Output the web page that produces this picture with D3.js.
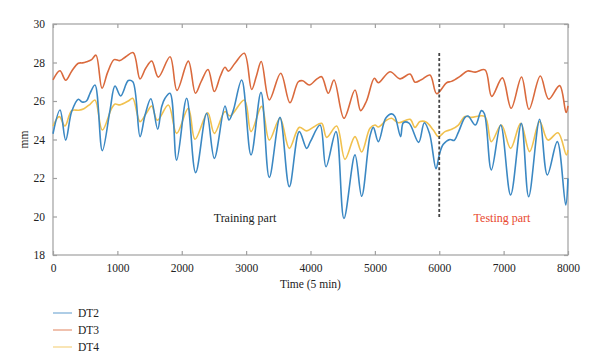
<!DOCTYPE html>
<html><head><meta charset="utf-8">
<script src="https://cdn.jsdelivr.net/npm/d3@7"></script>
<style>body{margin:0;background:#fff}svg{display:block}text{font-family:"Liberation Serif","DejaVu Serif",serif;fill:#222}</style>
</head><body><svg id="c" width="600" height="358"></svg>
<script>
// ---- data ----
const xTicks = [0,1000,2000,3000,4000,5000,6000,7000,8000];
const yTicks = [18,20,22,24,26,28,30];
const seriesNames = ["DT2","DT3","DT4"];
const seriesColors = ["#3b88c3","#da6a3d","#f1c14e"];

const dt2Time = [0,109,197,290,394,450,520,575,652,766,886,963,1051,1170,1240,1352,1430,1520,1626,1688,1740,1818,1921,2076,2216,2387,2506,2672,2734,2800,2931,3076,3231,3360,3526,3671,3826,3941,4000,4148,4241,4396,4520,4691,4795,4924,4976,5054,5168,5261,5310,5400,5442,5530,5680,5768,5850,5950,6000,6063,6167,6230,6300,6400,6447,6561,6654,6700,6809,6954,7109,7275,7389,7560,7679,7834,7964,8000];
const dt2Values = [24.3,25.53,23.97,25.45,26.09,25.95,26.0,26.4,26.83,23.42,25.53,26.78,26.26,27.06,27.0,24.15,25.27,26.12,24.53,25.7,26.14,26.4,22.93,26.14,22.28,25.36,23.02,25.74,25.01,25.5,27.09,23.2,26.45,22.03,25.15,21.55,24.41,23.54,23.9,24.75,22.59,24.41,19.9,23.2,21.05,24.18,24.63,23.89,25.1,25.33,25.2,24.15,24.87,24.85,23.85,24.87,24.3,22.48,23.2,23.75,24.0,23.95,24.4,25.15,25.22,24.75,25.5,25.35,22.42,24.75,21.12,24.84,21.03,25.05,22.16,23.89,20.6,21.98];

const dt3Time = [0,108,197,290,393,460,523,600,668,761,850,950,1040,1130,1247,1351,1440,1533,1636,1818,1926,2102,2213,2300,2408,2506,2600,2672,2724,2827,2972,3086,3160,3235,3360,3537,3681,3811,3880,3982,4100,4173,4277,4365,4520,4691,4779,4870,4992,5054,5235,5390,5546,5623,5720,5856,5960,6115,6190,6322,6440,6560,6711,6815,6980,7117,7278,7394,7570,7700,7870,7970,8000];
const dt3Values = [27.1,27.57,27.08,27.55,27.96,27.98,28.04,28.15,28.38,26.66,27.5,28.15,28.1,28.3,28.51,27.15,27.7,28.08,27.24,28.3,26.55,28.07,26.4,27.0,27.64,26.49,27.3,27.75,27.55,27.96,28.48,26.6,27.3,28.05,26.05,27.44,25.91,27.0,27.05,26.83,27.15,27.26,26.4,27.09,25.1,26.57,25.5,26.0,27.18,26.95,27.52,27.15,27.4,26.98,27.1,27.35,26.38,26.95,27.02,27.28,27.56,27.5,27.62,26.24,27.2,25.62,27.25,25.57,27.3,26.1,26.8,25.4,25.75];

const dt4Time = [0,98,186,290,400,480,575,652,766,911,963,1040,1170,1238,1352,1455,1533,1621,1792,1921,2102,2206,2403,2506,2672,2750,2972,3076,3241,3360,3526,3671,3826,3941,4050,4173,4251,4406,4536,4691,4795,4924,5002,5054,5183,5261,5364,5546,5623,5701,5800,5908,5986,6089,6193,6297,6400,6500,6706,6809,6964,7109,7265,7404,7560,7689,7845,7974,8000];
const dt4Values = [24.7,25.19,24.7,25.5,25.52,25.6,25.83,26.05,24.49,25.62,25.84,25.8,26.0,26.14,24.93,25.39,25.74,25.0,25.79,24.32,25.62,24.01,25.39,24.32,25.45,25.22,26.05,24.41,25.72,23.97,25.1,23.54,24.63,24.45,24.65,24.84,24.11,24.7,22.97,24.15,23.35,24.58,24.75,24.65,25.01,25.1,24.87,25.05,24.63,24.93,24.9,24.49,24.15,24.41,24.53,24.75,25.2,25.15,25.2,23.89,24.75,23.54,24.84,23.37,24.93,23.97,24.35,23.2,23.45];

const splitTime = 6000;
const splitRange = [19.87, 28.5];
const labels = {train:"Training part", test:"Testing part", xTitle:"Time (5 min)", yTitle:"mm"};

// ---- drawing ----
const svg = d3.select("#c");
const L=53, R=568, T=24, B=255;
const x = d3.scaleLinear().domain([0,8000]).range([L,R]);
const y = d3.scaleLinear().domain([18,30]).range([B,T]);
const axisCol = "#a0a0a0";

const g = svg.append("g");
g.append("rect").attr("x",L).attr("y",T).attr("width",R-L).attr("height",B-T)
 .attr("fill","none").attr("stroke",axisCol).attr("stroke-width",1.2);

function styleAxis(sel, showLabels){
  sel.select(".domain").remove();
  sel.selectAll(".tick line").attr("stroke",axisCol).attr("stroke-width",1.2);
  sel.selectAll(".tick text").style("font-size","11.5px").attr("fill","#222");
  if(!showLabels) sel.selectAll(".tick text").remove();
}
g.append("g").attr("transform",`translate(0,${B})`)
 .call(d3.axisBottom(x).tickValues(xTicks).tickSizeInner(-4).tickPadding(9).tickFormat(d3.format("d")))
 .call(s=>styleAxis(s,true));
g.append("g").attr("transform",`translate(0,${T})`)
 .call(d3.axisTop(x).tickValues(xTicks).tickSizeInner(-4))
 .call(s=>styleAxis(s,false));
g.append("g").attr("transform",`translate(${L},0)`)
 .call(d3.axisLeft(y).tickValues(yTicks).tickSizeInner(-4).tickPadding(8))
 .call(s=>styleAxis(s,true));
g.append("g").attr("transform",`translate(${R},0)`)
 .call(d3.axisRight(y).tickValues(yTicks).tickSizeInner(-4))
 .call(s=>styleAxis(s,false));

const series = [
  {name:seriesNames[0], t:dt2Time, v:dt2Values, c:seriesColors[0]},
  {name:seriesNames[1], t:dt3Time, v:dt3Values, c:seriesColors[1]},
  {name:seriesNames[2], t:dt4Time, v:dt4Values, c:seriesColors[2]}
];
const line = d3.line().x(d=>x(d[0])).y(d=>y(d[1])).curve(d3.curveCatmullRom.alpha(0.5));
[series[1], series[2], series[0]].forEach(s=>{
  g.append("path").datum(s.t.map((t,i)=>[t,s.v[i]]))
   .attr("d",line).attr("fill","none").attr("stroke",s.c).attr("stroke-width",1.6)
   .attr("stroke-linejoin","round");
});

g.append("line").attr("x1",x(splitTime)).attr("x2",x(splitTime))
 .attr("y1",y(splitRange[1])).attr("y2",y(splitRange[0]))
 .attr("stroke","#444").attr("stroke-width",1.8).attr("stroke-dasharray","3,2.2");

g.append("text").attr("x",245).attr("y",222).attr("text-anchor","middle")
 .style("font-size","12px").text(labels.train);
g.append("text").attr("x",502).attr("y",222).attr("text-anchor","middle")
 .style("font-size","12px").style("fill","#e8482e").text(labels.test);

g.append("text").attr("x",(L+R)/2).attr("y",288).attr("text-anchor","middle")
 .style("font-size","11.5px").text(labels.xTitle);
g.append("text").attr("transform",`translate(28,${(T+B)/2}) rotate(-90)`).attr("text-anchor","middle")
 .style("font-size","11.5px").text(labels.yTitle);

const ly = [313,330,347];
series.forEach((s,i)=>{
  g.append("line").attr("x1",53).attr("x2",72).attr("y1",ly[i]).attr("y2",ly[i])
   .attr("stroke",s.c).attr("stroke-width",1.1).attr("opacity",0.75);
  g.append("text").attr("x",78).attr("y",ly[i]+4).style("font-size","11.5px").text(s.name);
});
</script></body></html>
